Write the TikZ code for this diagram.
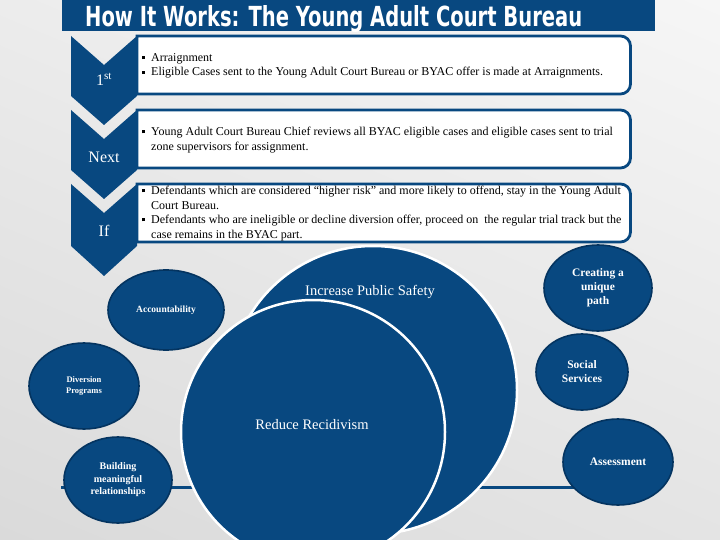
\documentclass[tikz,border=0pt]{standalone}
\usepackage{fontspec}
\setmainfont{Liberation Serif}
\newfontfamily\titlefont{DejaVu Sans}
\usepackage{graphicx}
\usetikzlibrary{shapes.geometric,shadings}
\definecolor{navy}{RGB}{8,72,128}
\definecolor{navyd}{RGB}{4,52,96}
\definecolor{bgtl}{RGB}{236,236,236}
\definecolor{bgtr}{RGB}{246,246,246}
\definecolor{bgbl}{RGB}{218,218,218}
\definecolor{bgbr}{RGB}{228,228,228}
\newcommand{\sq}{\makebox[9pt][l]{\rule[2.4pt]{3pt}{3pt}}}
\newcommand{\ind}{\hspace*{9pt}}
\begin{document}
\begin{tikzpicture}[x=1pt,y=1pt,
  chev/.style={fill=navy},
  boxshape/.style={draw=navy, line width=2.8pt, fill=white},
  boxtext/.style={anchor=west, inner sep=0, align=left, font=\fontsize{12}{14.5}\selectfont, text=black},
  chevtext/.style={text=white, font=\fontsize{16}{18}\selectfont, inner sep=0},
  bigc/.style={circle, fill=navy, draw=white, line width=2.5pt, inner sep=0},
  bigtext/.style={text=white, font=\fontsize{14.5}{16}\selectfont, inner sep=0},
  bubble/.style={ellipse, fill=navy, draw=navyd, line width=1.6pt, text=white, align=center, inner sep=0},
]
\useasboundingbox (0,0) rectangle (720,-540);
\clip (0,0) rectangle (720,-540);
\shade[upper left=bgtl, upper right=bgtr, lower left=bgbl, lower right=bgbr] (0,0) rectangle (720,-540);

% title
\fill[navy] (62,0) rectangle (655,-31);
\node[anchor=base west, inner sep=0, text=white] (title) at (85,-27)
  {\resizebox{497pt}{21pt}{\titlefont\bfseries How It Works: The Young Adult Court Bureau}};

% boxes
\draw[boxshape] (137,-36) -- (620.5,-36) arc[start angle=90,end angle=0,radius=10] -- (630.5,-84) arc[start angle=0,end angle=-90,radius=10] -- (137,-94) -- cycle;
\draw[boxshape] (137,-110) -- (620.5,-110) arc[start angle=90,end angle=0,radius=10] -- (630.5,-158) arc[start angle=0,end angle=-90,radius=10] -- (137,-168) -- cycle;
\draw[boxshape] (137,-184) -- (620.5,-184) arc[start angle=90,end angle=0,radius=10] -- (630.5,-232) arc[start angle=0,end angle=-90,radius=10] -- (137,-242) -- cycle;

% chevrons
\fill[chev] (71,-36) -- (104,-65) -- (137,-36) -- (137,-96) -- (104,-125) -- (71,-96) -- cycle;
\fill[chev] (71,-110) -- (104,-139) -- (137,-110) -- (137,-170) -- (104,-199) -- (71,-170) -- cycle;
\fill[chev] (71,-184) -- (104,-213) -- (137,-184) -- (137,-246) -- (104,-276) -- (71,-246) -- cycle;

\node[chevtext] (c1) at (104,-79) {1\textsuperscript{st}};
\node[chevtext] (c2) at (104,-157) {Next};
\node[chevtext] (c3) at (104,-231) {If};

\node[boxtext] (t1) at (142,-66) {\sq Arraignment\\
\sq Eligible Cases sent to the Young Adult Court Bureau or BYAC offer is made at Arraignments.};
\node[boxtext] (t2) at (142,-140) {\sq Young Adult Court Bureau Chief reviews all BYAC eligible cases and eligible cases sent to trial\\
\ind zone supervisors for assignment.};
\node[boxtext] (t3) at (142,-213.5) {\sq Defendants which are considered “higher risk” and more likely to offend, stay in the Young Adult\\
\ind Court Bureau.\\
\sq Defendants who are ineligible or decline diversion offer, proceed on\ \ the regular trial track but the\\
\ind case remains in the BYAC part.};

% base line
\coordinate (lineL) at (61,-487);
\coordinate (lineR) at (610,-487);
\draw[navy, line width=3pt] (lineL) -- (lineR);

% big circles
\node[bigc, minimum size=288pt] (safety) at (373,-390) {};
\node[bigc, minimum size=264pt] (recid) at (313,-432) {};
\node[bigtext] (safetytxt) at (370,-292) {Increase Public Safety};
\node[bigtext] (recidtxt) at (312,-425) {Reduce Recidivism};

% bubbles
\node[bubble, minimum width=116pt, minimum height=80pt, font=\bfseries\fontsize{9.5}{11}\selectfont] (acc) at (166,-310) {Accountability};
\node[bubble, minimum width=110pt, minimum height=86pt, font=\bfseries\fontsize{8.5}{11}\selectfont] (div) at (84,-386) {Diversion\\Programs};
\node[bubble, minimum width=108pt, minimum height=86pt, font=\bfseries\fontsize{10}{12.5}\selectfont] (build) at (118,-480) {Building\\meaningful\\relationships};
\node[bubble, minimum width=108pt, minimum height=86pt, font=\bfseries\fontsize{11.5}{14}\selectfont] (create) at (598,-288) {Creating a\\unique\\path};
\node[bubble, minimum width=92pt, minimum height=76pt, font=\bfseries\fontsize{11.5}{14}\selectfont] (social) at (582,-372) {Social\\Services};
\node[bubble, minimum width=110pt, minimum height=86pt, font=\bfseries\fontsize{11.5}{14}\selectfont] (assess) at (618,-462) {Assessment};
\end{tikzpicture}
\end{document}
